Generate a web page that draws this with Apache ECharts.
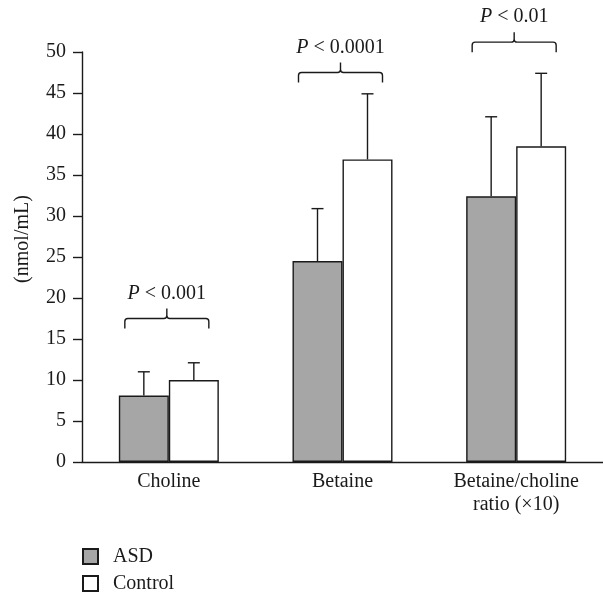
<!DOCTYPE html>
<html>
<head>
<meta charset="utf-8">
<script src="https://cdn.jsdelivr.net/npm/echarts@6/dist/echarts.min.js"></script>
<style>
html,body{margin:0;padding:0;background:#fff;}
#c{width:603px;height:592px;}
</style>
</head>
<body>
<div id="c"></div>
<script>
var categories = ['Choline', 'Betaine', 'Betaine/choline\nratio (×10)'];
var asdMean = [8.1, 24.5, 32.4];
var asdErrTop = [11.0, 30.9, 42.1];
var controlMean = [10.0, 36.9, 38.5];
var controlErrTop = [12.1, 44.9, 47.4];
var pLabels = ['0.001', '0.0001', '0.01'];
var bracketLevel = [17.5, 47.5, 51.2];
var yTicks = {min: 0, max: 50, interval: 5};
var seriesNames = ['ASD', 'Control'];

var FONT = 'Liberation Serif';
var INK = '#1a1a1a';
var BAR_W = 50;

var chart = echarts.init(document.getElementById('c'), null, {renderer: 'canvas'});

function errData(means, tops) {
  return means.map(function (m, i) { return [i, m, tops[i]]; });
}
function errRender(offset) {
  return function (params, api) {
    var i = api.value(0);
    var p0 = api.coord([i, api.value(1)]);
    var p1 = api.coord([i, api.value(2)]);
    var x = p0[0] + offset;
    var cap = 6;
    return {
      type: 'group',
      children: [
        {type: 'line', shape: {x1: x, y1: p0[1], x2: x, y2: p1[1]}, style: {stroke: INK, lineWidth: 1.4}},
        {type: 'line', shape: {x1: x - cap, y1: p1[1], x2: x + cap, y2: p1[1]}, style: {stroke: INK, lineWidth: 1.4}}
      ]
    };
  };
}

var bracketData = bracketLevel.map(function (v, i) { return [i, v]; });

function legendFor(name, top) {
  return {
    data: [name],
    orient: 'vertical',
    left: 82, top: top, padding: 0,
    itemWidth: 15, itemHeight: 15,
    icon: 'rect',
    textStyle: {fontFamily: FONT, fontSize: 20, lineHeight: 20, color: INK, padding: [0, 0, 0, 10]}
  };
}

chart.setOption({
  animation: false,
  textStyle: {fontFamily: FONT, color: INK},
  grid: {left: 82, top: 52, width: 525, height: 410, containLabel: false},
  legend: [legendFor(seriesNames[0], 546.5), legendFor(seriesNames[1], 573.5)],
  xAxis: {
    type: 'category',
    data: categories,
    axisLine: {lineStyle: {color: INK, width: 1.4}},
    axisTick: {show: false},
    axisLabel: {fontFamily: FONT, fontSize: 20, color: INK, margin: 8, lineHeight: 23}
  },
  yAxis: {
    type: 'value',
    min: yTicks.min, max: yTicks.max, interval: yTicks.interval,
    name: '(nmol/mL)',
    nameLocation: 'middle',
    nameGap: 49,
    nameTextStyle: {fontFamily: FONT, fontSize: 20, color: INK, padding: [0, 0, 0, 36]},
    axisLine: {show: true, lineStyle: {color: INK, width: 1.4}},
    axisTick: {show: true, length: 9, lineStyle: {color: INK, width: 1.4}},
    axisLabel: {fontFamily: FONT, fontSize: 20, color: INK, margin: 16},
    splitLine: {show: false}
  },
  series: [
    {
      name: seriesNames[0], type: 'bar', data: asdMean, barWidth: BAR_W, barGap: '0%',
      itemStyle: {color: '#a6a6a6', borderColor: INK, borderWidth: 1.4}
    },
    {
      name: seriesNames[1], type: 'bar', data: controlMean, barWidth: BAR_W, barGap: '0%',
      itemStyle: {color: '#ffffff', borderColor: INK, borderWidth: 1.4}
    },
    {
      type: 'custom', name: 'asdErr', data: errData(asdMean, asdErrTop),
      encode: {x: 0, y: [1, 2]}, renderItem: errRender(-BAR_W / 2), z: 5
    },
    {
      type: 'custom', name: 'ctrlErr', data: errData(controlMean, controlErrTop),
      encode: {x: 0, y: [1, 2]}, renderItem: errRender(BAR_W / 2), z: 5
    },
    {
      type: 'custom', name: 'brackets', data: bracketData, clip: false,
      encode: {x: 0, y: 1},
      renderItem: function (params, api) {
        var i = api.value(0);
        var p = api.coord([i, api.value(1)]);
        var cx = p[0] - 2, y = p[1];
        var hw = 42, d = 10, r = 3;
        var xl = cx - hw, xr = cx + hw;
        var path = 'M' + xl + ' ' + (y + d) +
          ' L' + xl + ' ' + (y + r) +
          ' Q' + xl + ' ' + y + ' ' + (xl + r) + ' ' + y +
          ' L' + (cx - r) + ' ' + y +
          ' Q' + cx + ' ' + y + ' ' + cx + ' ' + (y - r) +
          ' L' + cx + ' ' + (y - d) +
          ' M' + cx + ' ' + (y - r) +
          ' Q' + cx + ' ' + y + ' ' + (cx + r) + ' ' + y +
          ' L' + (xr - r) + ' ' + y +
          ' Q' + xr + ' ' + y + ' ' + xr + ' ' + (y + r) +
          ' L' + xr + ' ' + (y + d);
        return {
          type: 'group',
          children: [
            {type: 'path', shape: {pathData: path}, style: {stroke: INK, fill: null, lineWidth: 1.4}},
            {
              type: 'text',
              x: cx, y: y - 25,
              style: {
                text: '{i|P} < ' + pLabels[i],
                align: 'center', verticalAlign: 'middle',
                fontFamily: FONT, fontSize: 20, fill: INK,
                rich: {i: {fontStyle: 'italic', fontFamily: FONT, fontSize: 20, fill: INK}}
              }
            }
          ]
        };
      }
    }
  ]
});
</script>
</body>
</html>
